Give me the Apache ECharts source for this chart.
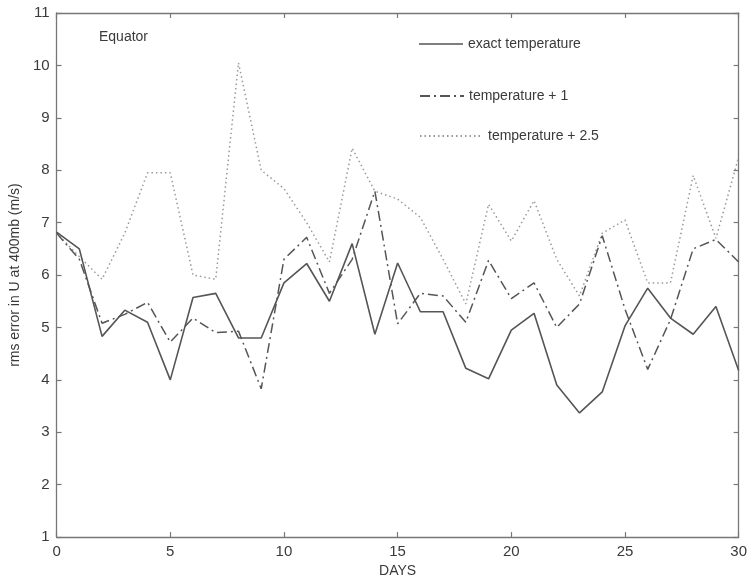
<!DOCTYPE html>
<html>
<head>
<meta charset="utf-8">
<script src="https://cdn.jsdelivr.net/npm/echarts@6/dist/echarts.min.js"></script>
<style>html,body{margin:0;padding:0;background:#fff}#c{width:750px;height:583px}</style>
</head>
<body>
<div id="c"></div>
<script>
var days = [0,1,2,3,4,5,6,7,8,9,10,11,12,13,14,15,16,17,18,19,20,21,22,23,24,25,26,27,28,29,30];
var exactTemp = [6.82,6.5,4.83,5.33,5.1,4.0,5.57,5.65,4.8,4.8,5.85,6.22,5.5,6.6,4.87,6.23,5.3,5.3,4.22,4.02,4.95,5.27,3.9,3.37,3.77,5.03,5.75,5.18,4.87,5.4,4.18];
var tempPlus1 = [6.8,6.3,5.08,5.25,5.48,4.72,5.18,4.9,4.93,3.83,6.3,6.72,5.65,6.3,7.6,5.07,5.65,5.6,5.1,6.28,5.55,5.85,5.0,5.45,6.75,5.35,4.2,5.15,6.5,6.68,6.25];
var tempPlus25 = [6.8,6.35,5.92,6.8,7.95,7.95,6.0,5.92,10.05,8.0,7.65,7.0,6.25,8.42,7.6,7.45,7.1,6.3,5.45,7.35,6.65,7.42,6.3,5.6,6.8,7.05,5.85,5.85,7.9,6.7,8.25];
var seriesNames = ['exact temperature','temperature + 1','temperature + 2.5'];
var xTicks = {min:0, max:30, interval:5};
var yTicks = {min:1, max:11, interval:1};

function pairs(vals){ return days.map(function(d,i){ return [d, vals[i]]; }); }

var font = 'Liberation Sans, Arial, sans-serif';
var axisCol = '#777';
var txtCol = '#3a3a3a';

var chart = echarts.init(document.getElementById('c'), null, {renderer:'canvas'});
function baseAxis(){
  return {
    axisLine:{show:true, onZero:false, lineStyle:{color:axisCol, width:1.3}},
    axisTick:{show:true, inside:true, length:5, lineStyle:{color:axisCol, width:1.2}},
    splitLine:{show:false}
  };
}
var legTxt = {fontSize:14, color:txtCol, fontFamily:font, padding:[0,0,0,0]};
chart.setOption({
  animation:false,
  backgroundColor:'#fff',
  grid:{left:53, right:11, top:13, bottom:45, containLabel:false},
  textStyle:{fontFamily:font},
  legend:[
    {data:[seriesNames[0]], left:414, top:32, itemWidth:44, itemHeight:14, textStyle:legTxt, icon:'path://M0,12.5L44,12.5L44,14L0,14Z', itemStyle:{color:'#555'}},
    {data:[seriesNames[1]], left:414, top:84, itemWidth:44, itemHeight:14, textStyle:legTxt, itemStyle:{opacity:0}},
    {data:[seriesNames[2]], left:414, top:124, itemWidth:63, itemHeight:14, textStyle:legTxt, itemStyle:{opacity:0}}
  ],
  graphic:[
    {type:'text', left:99, top:30, style:{text:'Equator', font:'14px ' + font, fill:txtCol}}
  ],
  xAxis:[
    Object.assign(baseAxis(), {type:'value', position:'bottom', min:xTicks.min, max:xTicks.max, interval:xTicks.interval,
      name:'DAYS', nameLocation:'middle', nameGap:25,
      nameTextStyle:{fontSize:14, color:txtCol, fontFamily:font},
      axisLabel:{fontSize:15, color:txtCol, margin:7, fontFamily:font}}),
    Object.assign(baseAxis(), {type:'value', position:'top', min:xTicks.min, max:xTicks.max, interval:xTicks.interval,
      axisLabel:{show:false}})
  ],
  yAxis:[
    Object.assign(baseAxis(), {type:'value', position:'left', min:yTicks.min, max:yTicks.max, interval:yTicks.interval,
      name:'rms error in U at 400mb (m/s)', nameLocation:'middle', nameGap:34,
      nameTextStyle:{fontSize:14, color:txtCol, fontFamily:font},
      axisLabel:{fontSize:15, color:txtCol, margin:7, fontFamily:font}}),
    Object.assign(baseAxis(), {type:'value', position:'right', min:yTicks.min, max:yTicks.max, interval:yTicks.interval,
      axisLabel:{show:false}})
  ],
  series:[
    {name:seriesNames[0], type:'line', data:pairs(exactTemp), symbol:'none', z:3,
      lineStyle:{color:'#555', width:1.6, type:'solid'}, itemStyle:{color:'#555'}},
    {name:seriesNames[1], type:'line', data:pairs(tempPlus1), symbol:'none', z:2,
      lineStyle:{color:'#555', width:1.5, type:[10,4,2,4]}, itemStyle:{color:'#555'}},
    {name:seriesNames[2], type:'line', data:pairs(tempPlus25), symbol:'none', z:1,
      lineStyle:{color:'#999', width:1.5, type:[1.5,3]}, itemStyle:{color:'#999'}}
  ]
});
</script>
</body>
</html>
